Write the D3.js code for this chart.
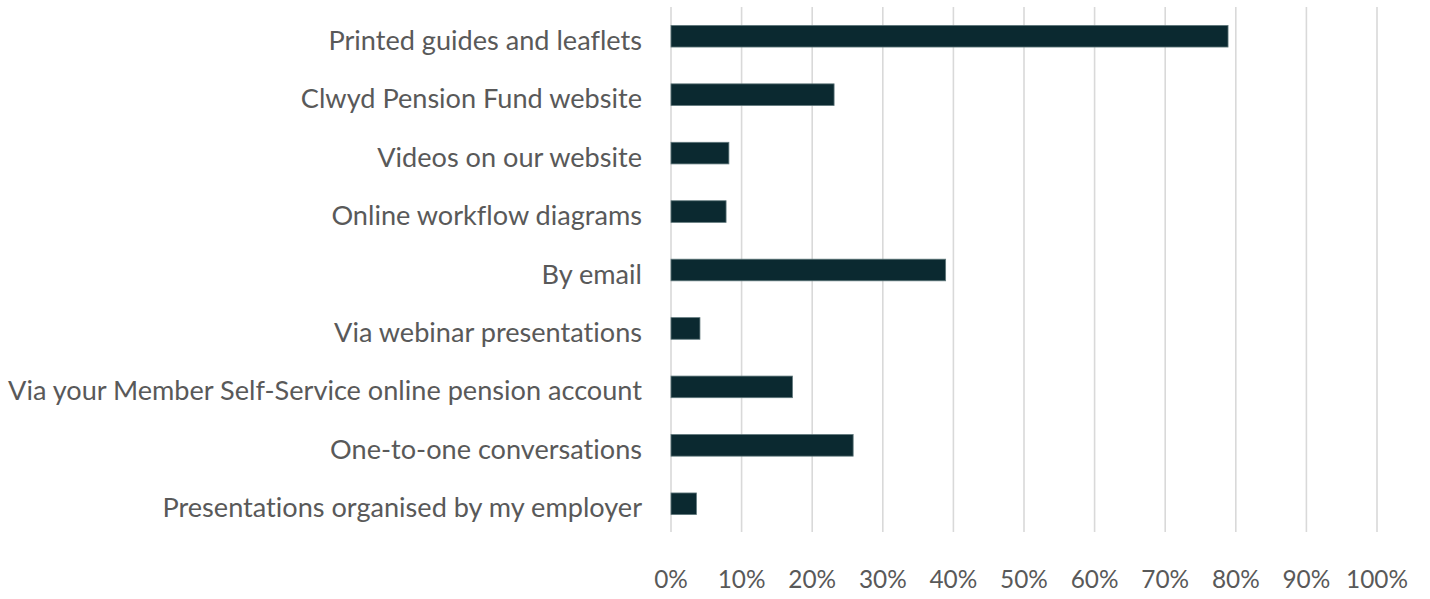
<!DOCTYPE html>
<html>
<head>
<meta charset="utf-8">
<script src="https://cdn.jsdelivr.net/npm/d3@7"></script>
<style>
  html, body { margin: 0; padding: 0; background: #ffffff; }
  svg { display: block; }
  text { font-family: "Lato", "Open Sans", sans-serif; fill: #595959; font-variant-ligatures: none; font-feature-settings: "liga" 0, "clig" 0; }
</style>
</head>
<body>
<svg id="chart" width="1430" height="599"></svg>
<script>
const categories = [
  "Printed guides and leaflets",
  "Clwyd Pension Fund website",
  "Videos on our website",
  "Online workflow diagrams",
  "By email",
  "Via webinar presentations",
  "Via your Member Self-Service online pension account",
  "One-to-one conversations",
  "Presentations organised by my employer"
];
const values = [0.789, 0.231, 0.082, 0.078, 0.389, 0.041, 0.172, 0.258, 0.036];
const tickValues = [0, 0.1, 0.2, 0.3, 0.4, 0.5, 0.6, 0.7, 0.8, 0.9, 1.0];
const tickLabels = ["0%", "10%", "20%", "30%", "40%", "50%", "60%", "70%", "80%", "90%", "100%"];

const svg = d3.select("#chart");

const x = d3.scaleLinear().domain([0, 1]).range([671, 1377]);
const y = d3.scaleBand().domain(categories).range([7, 533]).paddingInner(0.63).paddingOuter(0.315);

// gridlines
svg.append("g").selectAll("line")
  .data(tickValues)
  .join("line")
  .attr("x1", d => x(d)).attr("x2", d => x(d))
  .attr("y1", 7).attr("y2", 532)
  .attr("stroke", "#d9d9d9")
  .attr("stroke-width", 1.6);

// bars
svg.append("g").selectAll("rect")
  .data(categories)
  .join("rect")
  .attr("x", x(0))
  .attr("y", d => y(d))
  .attr("width", (d, i) => x(values[i]) - x(0))
  .attr("height", y.bandwidth())
  .attr("fill", "#0b2930")
  .attr("stroke", "#5f777b")
  .attr("stroke-width", 0.8);

// category labels
const catLabels = svg.append("g").selectAll("text")
  .data(categories)
  .join("text")
  .attr("x", 642)
  .attr("y", d => y(d) + y.bandwidth() / 2 + 13.5)
  .attr("text-anchor", "end")
  .attr("font-size", 24)
  .text(d => d);

let longest = 0;
catLabels.each(function () { longest = Math.max(longest, this.getComputedTextLength()); });
catLabels.attr("font-size", 24 * 634 / longest);

// x tick labels
const tLabels = svg.append("g").selectAll("text")
  .data(tickValues)
  .join("text")
  .attr("x", d => x(d))
  .attr("y", 588)
  .attr("text-anchor", "middle")
  .attr("font-size", 24)
  .text((d, i) => tickLabels[i]);
let w100 = 0;
tLabels.each(function (d, i) { if (i === tickValues.length - 1) w100 = this.getComputedTextLength(); });
tLabels.attr("font-size", 24 * 62 / w100);
</script>
</body>
</html>
